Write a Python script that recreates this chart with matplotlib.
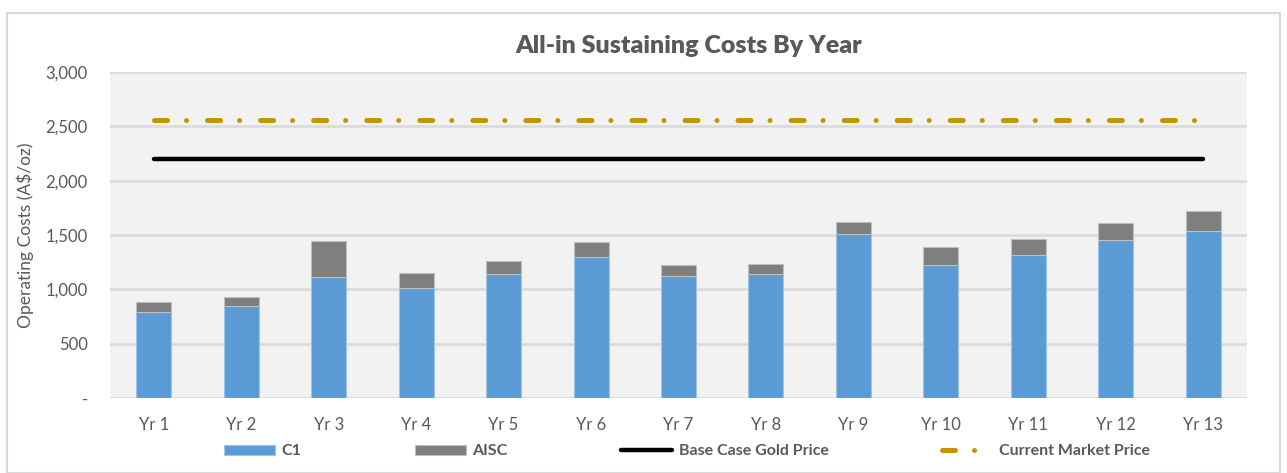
import numpy as np
import matplotlib.pyplot as plt
from matplotlib.patches import Rectangle
from matplotlib.ticker import FuncFormatter

plt.rcParams['font.family'] = ['Lato', 'DejaVu Sans']

# データ
years = ['Yr 1', 'Yr 2', 'Yr 3', 'Yr 4', 'Yr 5', 'Yr 6', 'Yr 7',
         'Yr 8', 'Yr 9', 'Yr 10', 'Yr 11', 'Yr 12', 'Yr 13']
c1 = [792, 846, 1113, 1012, 1141, 1297, 1122, 1141, 1508, 1221, 1316, 1457, 1533]
aisc_total = [883, 929, 1444, 1150, 1258, 1438, 1226, 1236, 1619, 1387, 1463, 1613, 1717]
base_case_price = 2200
current_market_price = 2560

aisc_extra = [t - c for t, c in zip(aisc_total, c1)]
x = np.arange(len(years))

txt = '#595959'

fig = plt.figure(figsize=(12.87, 4.73), dpi=100)
ax = fig.add_axes([110 / 1287, 75 / 473, 1137 / 1287, 326 / 473])
ax.set_facecolor('#f2f2f2')

# 外枠
fig.patches.append(Rectangle((7 / 1287, 0.0), 1273 / 1287, 460 / 473,
                             transform=fig.transFigure, fill=False,
                             edgecolor='#d9d9d9', linewidth=1.5))

b1 = ax.bar(x, c1, width=0.4, color='#5b9bd5', edgecolor='#9dc3e6',
            linewidth=0.8, label='C1', zorder=3)
b2 = ax.bar(x, aisc_extra, width=0.4, bottom=c1, color='#7f7f7f',
            edgecolor='#bfbfbf', linewidth=0.8, label='AISC', zorder=3)

l1, = ax.plot(x, [base_case_price] * len(x), color='black', linewidth=3.2,
              solid_capstyle='round', label='Base Case Gold Price', zorder=4)
l2, = ax.plot(x, [current_market_price] * len(x), color='#c49500', linewidth=3.6,
              dashes=(2.6, 3.8, 0.01, 4.2), dash_capstyle='round',
              label='Current Market Price', zorder=4)

ax.set_xlim(-0.5, len(years) - 0.5)
ax.set_ylim(0, 3000)
ax.set_yticks(np.arange(0, 3001, 500))
ax.yaxis.set_major_formatter(FuncFormatter(lambda v, p: '-' if v == 0 else f'{v:,.0f}'))
ax.set_xticks(x)
ax.set_xticklabels(years)
ax.tick_params(axis='both', length=0, labelsize=12, colors=txt)
ax.tick_params(axis='y', pad=16)
ax.tick_params(axis='x', pad=14)
ax.grid(axis='y', color='#d9d9d9', linewidth=1.8, zorder=0)
ax.set_axisbelow(True)
for s in ax.spines.values():
    s.set_visible(False)

ax.set_ylabel('Operating Costs (A$/oz)', fontsize=12.5, color=txt, labelpad=8)
fig.text(0.535, 0.903, 'All-in Sustaining Costs By Year', ha='center', va='center',
         fontsize=18, fontweight='heavy', color=txt)

leg = fig.legend([b1, b2, l1, l2], ['C1', 'AISC', 'Base Case Gold Price', 'Current Market Price'],
                 loc='center', bbox_to_anchor=(0.534, 0.046), ncol=4,
                 frameon=False, handlelength=3.2, handleheight=0.6,
                 handletextpad=0.4, columnspacing=7.1,
                 prop={'size': 11.5, 'weight': 'bold'})
for t in leg.get_texts():
    t.set_color(txt)

plt.savefig('out.png', dpi=100)
